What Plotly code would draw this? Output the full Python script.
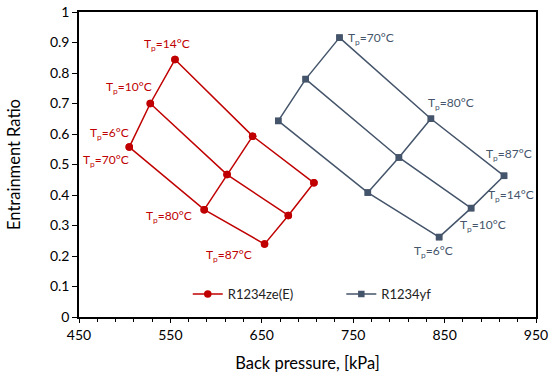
import plotly.graph_objects as go

# Grid data: rows = generator temperature (70, 80, 87 °C), cols = evaporator temperature (6, 10, 14 °C)
ze_x = [[505, 528, 555], [587, 612, 640], [653, 679, 707]]
ze_y = [[0.557, 0.700, 0.844], [0.352, 0.467, 0.593], [0.239, 0.333, 0.440]]
yf_x = [[668, 698, 735], [766, 800, 835], [844, 879, 915]]
yf_y = [[0.643, 0.780, 0.916], [0.408, 0.523, 0.650], [0.262, 0.357, 0.463]]

# Labels
ze_lbl_text = ["T<sub>p</sub>=14°C", "T<sub>p</sub>=10°C", "T<sub>p</sub>=6°C", "T<sub>p</sub>=70°C", "T<sub>p</sub>=80°C", "T<sub>p</sub>=87°C"]
ze_lbl_x = [546, 505, 483.5, 480, 548, 614]
ze_lbl_y = [0.894, 0.752, 0.603, 0.514, 0.330, 0.201]
yf_lbl_text = ["T<sub>p</sub>=70°C", "T<sub>p</sub>=80°C", "T<sub>p</sub>=87°C", "T<sub>p</sub>=14°C", "T<sub>p</sub>=10°C", "T<sub>p</sub>=6°C"]
yf_lbl_x = [769, 857, 921, 923, 892, 838]
yf_lbl_y = [0.913, 0.699, 0.533, 0.399, 0.300, 0.216]

RED = "#C00000"
BLUE = "#44546A"
FONT = "Lato"

fig = go.Figure()

def add_grid(xs, ys, color, symbol, name, msize, legend):
    first = True
    lines = []
    for i in range(3):
        lines.append(([xs[i][j] for j in range(3)], [ys[i][j] for j in range(3)]))
    for j in range(3):
        lines.append(([xs[i][j] for i in range(3)], [ys[i][j] for i in range(3)]))
    for lx, ly in lines:
        fig.add_trace(go.Scatter(
            x=lx, y=ly, mode="lines+markers", name=name,
            line=dict(color=color, width=1.5),
            marker=dict(color=color, symbol=symbol, size=msize),
            showlegend=first, legendgroup=name, legend=legend))
        first = False

add_grid(ze_x, ze_y, RED, "circle", "R1234ze(E)", 7.5, "legend")
add_grid(yf_x, yf_y, BLUE, "square", "R1234yf", 6.5, "legend2")

for t, x, y in zip(ze_lbl_text, ze_lbl_x, ze_lbl_y):
    fig.add_annotation(x=x, y=y, text=t, showarrow=False,
                       font=dict(family=FONT, size=12, color=RED))
for t, x, y in zip(yf_lbl_text, yf_lbl_x, yf_lbl_y):
    fig.add_annotation(x=x, y=y, text=t, showarrow=False,
                       font=dict(family=FONT, size=12, color=BLUE))

leg_common = dict(orientation="h", yanchor="middle", xanchor="left", y=0.075,
                  font=dict(family=FONT, size=13, color="#222"),
                  bgcolor="rgba(0,0,0,0)", itemwidth=30)

fig.update_layout(
    width=550, height=384,
    margin=dict(l=79, r=14, t=12, b=67, autoexpand=False),
    paper_bgcolor="white", plot_bgcolor="white",
    font=dict(family=FONT, size=13, color="#000000"),
    showlegend=True,
    legend=dict(x=0.238, **leg_common),
    legend2=dict(x=0.574, **leg_common),
    xaxis=dict(range=[450, 950], tickvals=[450, 550, 650, 750, 850, 950],
               showgrid=False, zeroline=False, showline=True, linecolor="black", linewidth=1.5,
               mirror=True, ticks="outside", ticklen=4, tickcolor="black",
               minor=dict(dtick=20, tick0=450, ticks="outside", ticklen=3, tickcolor="black"),
               title=dict(text="Back pressure, [kPa]", font=dict(family=FONT, size=16.5), standoff=16),
               tickfont=dict(family=FONT, size=14), automargin=False),
    xaxis2=dict(range=[450, 950], overlaying="x", side="bottom", anchor="y",
                tickvals=[450, 550, 650, 750, 850, 950], showticklabels=False,
                ticks="inside", ticklen=4, tickcolor="black", showgrid=False,
                zeroline=False, showline=False, automargin=False),
    yaxis=dict(range=[0, 1], dtick=0.1, tickformat="~g",
               showgrid=False, zeroline=False, showline=True, linecolor="black", linewidth=1.5,
               mirror=True, ticks="outside", ticklen=5, tickcolor="black",
               title=dict(text="Entrainment Ratio", font=dict(family=FONT, size=16.5), standoff=25),
               tickfont=dict(family=FONT, size=14), automargin=False),
)

fig.write_html("out.html", config={"displayModeBar": False},
               post_script="document.body.style.margin='0';")
